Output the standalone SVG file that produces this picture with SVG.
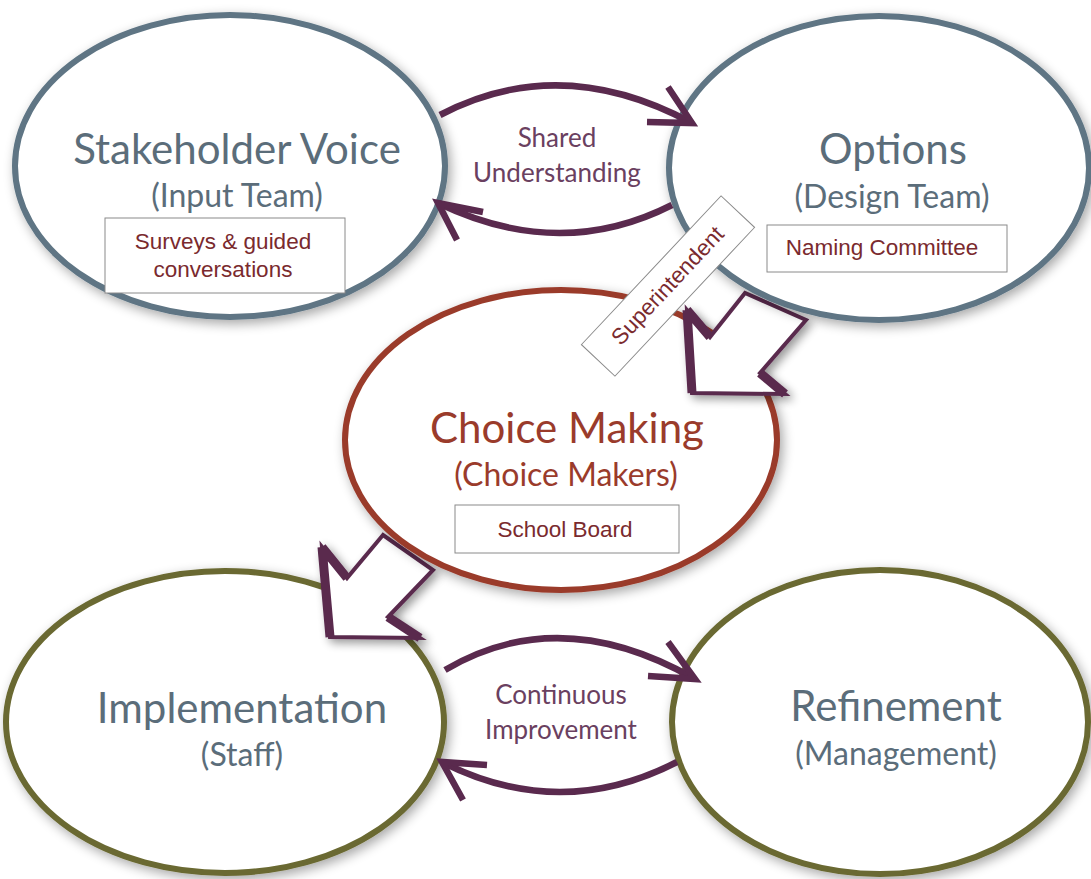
<svg xmlns="http://www.w3.org/2000/svg" width="1091" height="879" viewBox="0 0 1091 879">
<defs>
<filter id="sh" x="-20%" y="-20%" width="140%" height="140%">
<feGaussianBlur in="SourceAlpha" stdDeviation="6"/>
<feOffset dx="3" dy="4" result="b"/>
<feComponentTransfer><feFuncA type="linear" slope="0.35"/></feComponentTransfer>
<feMerge><feMergeNode/><feMergeNode in="SourceGraphic"/></feMerge>
</filter>
<filter id="ash" x="-30%" y="-30%" width="160%" height="160%">
<feGaussianBlur in="SourceAlpha" stdDeviation="5"/>
<feOffset dx="4" dy="4"/>
<feComponentTransfer><feFuncA type="linear" slope="0.4"/></feComponentTransfer>
<feMerge><feMergeNode/><feMergeNode in="SourceGraphic"/></feMerge>
</filter>
</defs>
<style>
.ell{fill:#fff;stroke-width:6}
.blue{stroke:#5e7584}
.red{stroke:#9a3b2b}
.olive{stroke:#6a6931}
.h{font-family:Lato,"Open Sans",sans-serif;font-size:42px;text-anchor:middle}
.s{font-family:Lato,"Open Sans",sans-serif;font-size:32px;text-anchor:middle}
.gt{fill:#5b6d7a}
.rt{fill:#9a3b2b}
.box{fill:#fff;stroke:#8a8a8a;stroke-width:1}
.bt{font-family:"Liberation Sans",Arial,sans-serif;font-size:22.5px;fill:#7a2a2e;text-anchor:middle}
.ct{font-family:Lato,"Open Sans",sans-serif;font-size:26px;fill:#6a4060;text-anchor:middle}
.arc{fill:none;stroke:#5a2a4e;stroke-width:6.5;stroke-linecap:butt}
.blk{fill:#fff;stroke:#5a2a4e;stroke-width:4;stroke-linejoin:miter}
</style>
<rect width="1091" height="879" fill="#fff"/>

<g id="implementation" filter="url(#sh)">
<ellipse class="ell olive" cx="225" cy="722" rx="219" ry="151"/>
</g>
<g id="arrow-choice-impl" filter="url(#ash)">
<polygon class="blk" points="383,535 347,578 322,547 330,637 420,638 388,617 433,570"/>
<path d="M322,547 L347,578 M322,547 L330,637" fill="none" stroke="#5a2a4e" stroke-width="9"/>
<path d="M388,617 L420,638" fill="none" stroke="#5a2a4e" stroke-width="9"/>
</g>
<g id="choice" filter="url(#sh)">
<ellipse class="ell red" cx="561" cy="440" rx="216" ry="150"/>
</g>
<g id="arrow-options-choice" filter="url(#ash)">
<polygon class="blk" points="745,293 710,337 687,310 692,393 785,394 760,373 806,320"/>
<path d="M687,310 L710,337 M687,310 L692,393" fill="none" stroke="#5a2a4e" stroke-width="9"/>
<path d="M760,373 L785,394" fill="none" stroke="#5a2a4e" stroke-width="9"/>
</g>
<g id="stakeholder" filter="url(#sh)">
<ellipse class="ell blue" cx="230" cy="166" rx="215" ry="151"/>
</g>
<g id="options" filter="url(#sh)">
<ellipse class="ell blue" cx="879" cy="168" rx="210" ry="152"/>
</g>
<g id="refinement" filter="url(#sh)">
<ellipse class="ell olive" cx="880" cy="722" rx="208" ry="152"/>
</g>

<g id="connectors">
<path class="arc" d="M440,115 Q560,52 692,123"/>
<path class="arc" d="M668,87 L692,123 L647,122"/>
<path class="arc" d="M672,205 Q560,262 438,203"/>
<path class="arc" d="M483,212 L438,203 L457,240"/>
<path class="arc" d="M445,670 Q560,602 695,679"/>
<path class="arc" d="M668,642 L695,679 L648,676"/>
<path class="arc" d="M677,762 Q560,822 442,762"/>
<path class="arc" d="M487,765 L442,762 L463,800"/>
</g>

<g id="labels">
<text class="ct" x="557" y="147">Shared</text>
<text class="ct" x="557" y="182">Understanding</text>
<text class="ct" x="561" y="704">Continuous</text>
<text class="ct" x="561" y="739">Improvement</text>
</g>

<g id="stakeholder-text">
<text class="h gt" x="237" y="164">Stakeholder Voice</text>
<text class="s gt" x="237" y="207">(Input Team)</text>
<rect class="box" x="105" y="218" width="240" height="75"/>
<text class="bt" x="223" y="249">Surveys &amp; guided</text>
<text class="bt" x="223" y="277">conversations</text>
</g>
<g id="options-text">
<text class="h gt" x="893" y="164">Options</text>
<text class="s gt" x="892" y="208">(Design Team)</text>
<rect class="box" x="767" y="225" width="240" height="47"/>
<text class="bt" x="882" y="255">Naming Committee</text>
</g>
<g id="choice-text">
<text class="h rt" x="567" y="443">Choice Making</text>
<text class="s rt" x="566" y="486">(Choice Makers)</text>
<rect class="box" x="455" y="505" width="224" height="48"/>
<text class="bt" x="565" y="537">School Board</text>
</g>
<g id="implementation-text">
<text class="h gt" x="242" y="723">Implementation</text>
<text class="s gt" x="242" y="766">(Staff)</text>
</g>
<g id="refinement-text">
<text class="h gt" x="896" y="721">Refinement</text>
<text class="s gt" x="896" y="765">(Management)</text>
</g>
<g id="superintendent" transform="translate(668,286) rotate(-46.8)">
<rect class="box" x="-102" y="-23" width="204" height="46"/>
<text class="bt" x="0" y="7">Superintendent</text>
</g>
</svg>
